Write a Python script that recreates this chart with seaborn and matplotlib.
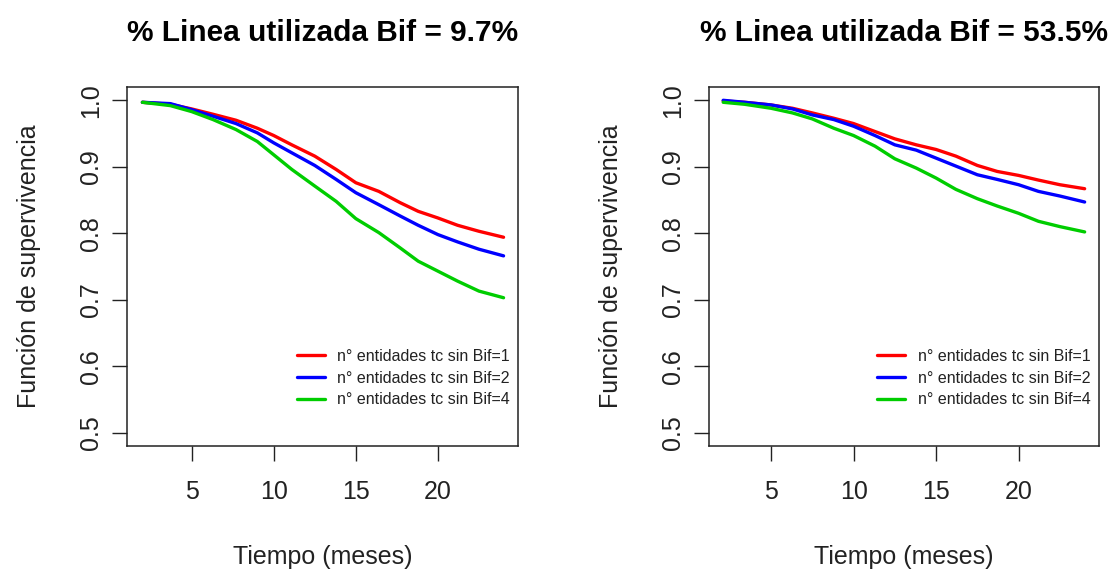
import numpy as np
import pandas as pd
import matplotlib
matplotlib.use("Agg")
import matplotlib.pyplot as plt
import seaborn as sns

# ---------------- data ----------------
titles = ["% Linea utilizada Bif = 9.7%", "% Linea utilizada Bif = 53.5%"]
series_labels = ["n° entidades tc sin Bif=1", "n° entidades tc sin Bif=2", "n° entidades tc sin Bif=4"]

t_left = [2, 3.7, 5, 6.3, 7.7, 9, 10, 11.1, 12.5, 13.8, 15, 16.4, 17.7, 18.8, 20, 21.2, 22.5, 24]
left_bif1 = [0.997, 0.994, 0.987, 0.979, 0.970, 0.958, 0.947, 0.933, 0.916, 0.896, 0.876, 0.863, 0.846, 0.833, 0.823, 0.812, 0.803, 0.794]
left_bif2 = [0.997, 0.995, 0.986, 0.976, 0.965, 0.951, 0.936, 0.921, 0.902, 0.881, 0.861, 0.843, 0.826, 0.812, 0.798, 0.787, 0.776, 0.766]
left_bif4 = [0.997, 0.992, 0.983, 0.971, 0.956, 0.938, 0.918, 0.896, 0.871, 0.848, 0.822, 0.801, 0.778, 0.758, 0.743, 0.728, 0.713, 0.703]

t_right = [2.1, 3.4, 5, 6.3, 7.5, 8.8, 10, 11.3, 12.5, 13.8, 15, 16.2, 17.5, 18.7, 20, 21.2, 22.5, 24]
right_bif1 = [0.999, 0.997, 0.993, 0.988, 0.981, 0.973, 0.965, 0.953, 0.942, 0.933, 0.926, 0.916, 0.902, 0.893, 0.887, 0.880, 0.873, 0.867]
right_bif2 = [1.000, 0.997, 0.993, 0.987, 0.978, 0.971, 0.961, 0.947, 0.933, 0.925, 0.913, 0.901, 0.888, 0.881, 0.873, 0.863, 0.856, 0.847]
right_bif4 = [0.997, 0.994, 0.988, 0.981, 0.972, 0.958, 0.947, 0.931, 0.912, 0.898, 0.883, 0.866, 0.852, 0.841, 0.830, 0.818, 0.810, 0.802]

x_ticks = [5, 10, 15, 20]
y_ticks = [0.5, 0.6, 0.7, 0.8, 0.9, 1.0]
y_ticklabels = ["0.5", "0.6", "0.7", "0.8", "0.9", "1.0"]
colors = ["#FF0000", "#0000FF", "#00CD00"]

# ---------------- style ----------------
sns.set_theme(style="white")
plt.rcParams["font.family"] = ["Liberation Sans", "DejaVu Sans"]
plt.rcParams["text.color"] = "#222222"

fig = plt.figure(figsize=(11.16, 5.72), dpi=100)
W, H = 1116, 572
def rect(x0, y0, x1, y1):
    return [x0 / W, 1 - y1 / H, (x1 - x0) / W, (y1 - y0) / H]

ax_l = fig.add_axes(rect(127, 87, 518, 446))
ax_r = fig.add_axes(rect(709, 87, 1099, 446))

panels = [
    (ax_l, t_left, [left_bif1, left_bif2, left_bif4], (1.06, 24.88), 0.980),
    (ax_r, t_right, [right_bif1, right_bif2, right_bif4], (1.24, 24.87), 0.979),
]

for i, (ax, tt, ys, xlim, leg_x) in enumerate(panels):
    frames = []
    for lab, vals in zip(series_labels, ys):
        frames.append(pd.DataFrame({"t": tt, "v": vals, "serie": lab}))
    df = pd.concat(frames, ignore_index=True)
    sns.lineplot(data=df, x="t", y="v", hue="serie", hue_order=series_labels,
                 palette=colors, linewidth=2.4, ax=ax, legend=True, sort=True)
    ax.set_xlim(*xlim)
    ax.set_ylim(0.48, 1.02)
    ax.set_xticks(x_ticks)
    ax.set_xticklabels([str(v) for v in x_ticks])
    ax.set_yticks(y_ticks)
    ax.set_yticklabels(y_ticklabels, rotation=90, va="center")
    ax.tick_params(axis="both", which="both", direction="out", length=10.5, width=1.0,
                   color="#222222", labelsize=18, labelcolor="#222222", bottom=True, left=True)
    ax.tick_params(axis="x", pad=14)
    ax.tick_params(axis="y", pad=7)
    for sp in ax.spines.values():
        sp.set_visible(True)
        sp.set_color("#222222")
        sp.set_linewidth(1.1)
    ax.set_xlabel("Tiempo (meses)", fontsize=18, color="#222222")
    ax.set_ylabel("Función de supervivencia", fontsize=18, color="#222222")
    ax.xaxis.set_label_coords(0.5, -0.275)
    ax.yaxis.set_label_coords(-0.22, 0.5)
    ax.set_title(titles[i], fontsize=21.5, fontweight="bold", color="black", pad=33)
    handles, labels = ax.get_legend_handles_labels()
    leg = ax.legend(handles, labels, loc="upper right", bbox_to_anchor=(leg_x, 0.27),
                    frameon=False, fontsize=11.5, handlelength=1.75, handletextpad=0.8,
                    labelspacing=0.42, borderaxespad=0, borderpad=0)
    for ln in leg.get_lines():
        ln.set_linewidth(2.4)
    ax.grid(False)

fig.savefig("out.png", dpi=100)
